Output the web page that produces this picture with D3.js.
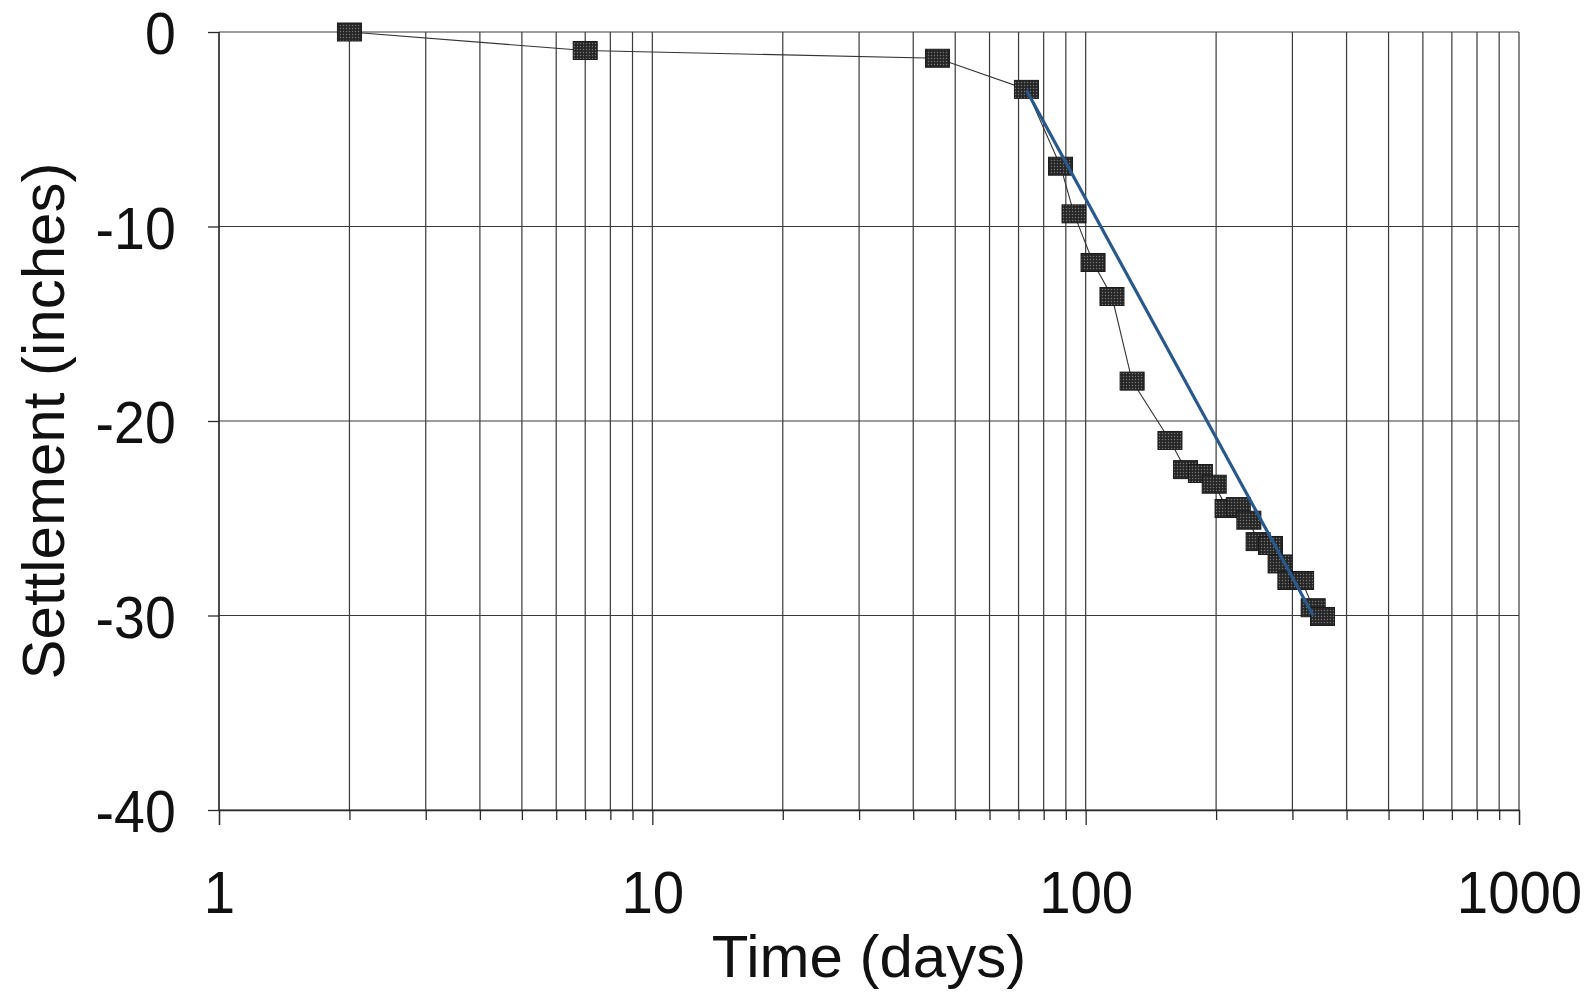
<!DOCTYPE html>
<html lang="en">
	<head>
		<meta charset="utf-8">
		<title>settlement</title>
		<script src="https://d3js.org/d3.v7.min.js"></script>
		<style type="text/css">
		body { margin:0; background:#fff; }
		svg { display:block; }
		text { font-family: "Liberation Sans", Arial, sans-serif; fill:#111; }
		.axis path, .axis line { stroke:#2a2a2a; stroke-width:1.3; }
		.grid line { stroke:#3a3a3a; stroke-width:1.2; }
		</style>
	</head>
	<body>
		<div id="chart"></div>
		<script type="text/javascript">

			// data
			var days = [2, 7, 45.5, 73, 87.5, 94, 104, 115, 128, 156.5, 170, 184, 198, 212, 225, 238, 250, 267, 281, 296, 315, 335, 352];
			var settle = [0, -0.95, -1.35, -2.95, -6.9, -9.35, -11.85, -13.6, -17.95, -21, -22.5, -22.7, -23.25, -24.5, -24.4, -25.1, -26.2, -26.4, -27.35, -28.2, -28.2, -29.6, -30.05];
			var trendDays = [73, 335];
			var trendSettle = [-3, -30];
			var xTicks = [1, 10, 100, 1000];
			var xMinor = [2,3,4,5,6,7,8,9,20,30,40,50,60,70,80,90,200,300,400,500,600,700,800,900];
			var yTicks = [0, -10, -20, -30, -40];

			var w = 1588;
			var h = 992;

			var x = d3.scaleLog().domain([1, 1000]).range([219, 1519]);
			var y = d3.scaleLinear().domain([-40, 0]).range([810, 32]);

			// plain hyphen like the original, not the unicode minus
			var fmt = function(d) { return String(d); };

			var svg = d3.select("#chart")
						.append("svg")
						.attr("width", w)
						.attr("height", h);

			// marker fill with a dotted look
			var pat = svg.append("defs").append("pattern")
						.attr("id", "dots")
						.attr("width", 3).attr("height", 3)
						.attr("patternUnits", "userSpaceOnUse");
			pat.append("rect").attr("width", 3).attr("height", 3).attr("fill", "#262626");
			pat.append("circle").attr("cx", 1.5).attr("cy", 1.5).attr("r", 0.7).attr("fill", "#7a7a7a");

			//gridlines
			var grid = svg.append("g").attr("class", "grid");
			grid.selectAll("line.v")
				.data(xTicks.concat(xMinor))
				.enter()
				.append("line")
				.attr("class", "v")
				.attr("x1", function(d) { return x(d); })
				.attr("x2", function(d) { return x(d); })
				.attr("y1", y(0))
				.attr("y2", y(-40));
			grid.selectAll("line.hz")
				.data(yTicks)
				.enter()
				.append("line")
				.attr("class", "hz")
				.attr("x1", x(1))
				.attr("x2", x(1000))
				.attr("y1", function(d) { return y(d); })
				.attr("y2", function(d) { return y(d); });

			// x axis, major ticks w/ labels + minor ticks
			var xAxis = d3.axisBottom(x).tickValues(xTicks).tickFormat(fmt)
						.tickSize(15).tickPadding(45);
			var gx = svg.append("g")
				.attr("class", "x axis")
				.attr("transform", "translate(0," + y(-40) + ")")
				.call(xAxis);
			gx.selectAll("text")
				.style("font-size", "60px")
				.attr("transform", "scale(0.94,1)");

			svg.append("g")
				.attr("class", "x axis minor")
				.attr("transform", "translate(0," + y(-40) + ")")
				.call(d3.axisBottom(x).tickValues(xMinor).tickFormat("").tickSize(10))
				.select(".domain").remove();

			// y axis
			var yAxis = d3.axisLeft(y).tickValues(yTicks).tickFormat(fmt)
						.tickSize(11).tickPadding(35);
			var gy = svg.append("g")
				.attr("class", "y axis")
				.attr("transform", "translate(" + x(1) + ",0)")
				.call(yAxis);
			gy.selectAll("text")
				.style("font-size", "59px")
				.attr("dy", "0.37em")
				.attr("transform", "scale(0.94,1)");
			gy.select(".domain").attr("d", "M0," + y(0) + "V" + y(-40));

			// connecting line
			var pts = days.map(function(d, i) { return [d, settle[i]]; });
			var line = d3.line()
						.x(function(d) { return x(d[0]); })
						.y(function(d) { return y(d[1]); });

			svg.append("path")
				.datum(pts)
				.attr("d", line)
				.attr("fill", "none")
				.attr("stroke", "#333")
				.attr("stroke-width", 1.1);

			svg.selectAll("rect.pt")
				.data(pts)
				.enter()
				.append("rect")
				.attr("class", "pt")
				.attr("x", function(d) { return x(d[0]) - 12; })
				.attr("y", function(d) { return y(d[1]) - 9; })
				.attr("width", 24)
				.attr("height", 18)
				.attr("fill", "url(#dots)")
				.attr("stroke", "#1a1a1a")
				.attr("stroke-width", 1);

			// fitted line
			var trend = trendDays.map(function(d, i) { return [d, trendSettle[i]]; });
			svg.append("path")
				.datum(trend)
				.attr("d", line)
				.attr("fill", "none")
				.attr("stroke", "#28588c")
				.attr("stroke-width", 3.2);

			// axis titles
			svg.append("text")
				.attr("x", (x(1) + x(1000)) / 2)
				.attr("y", 977)
				.attr("text-anchor", "middle")
				.style("font-size", "60px")
				.text("Time (days)");

			svg.append("text")
				.attr("transform", "translate(64," + (y(-20)) + ") rotate(-90)")
				.attr("text-anchor", "middle")
				.style("font-size", "60px")
				.text("Settlement (inches)");

		</script>
	</body>
</html>
